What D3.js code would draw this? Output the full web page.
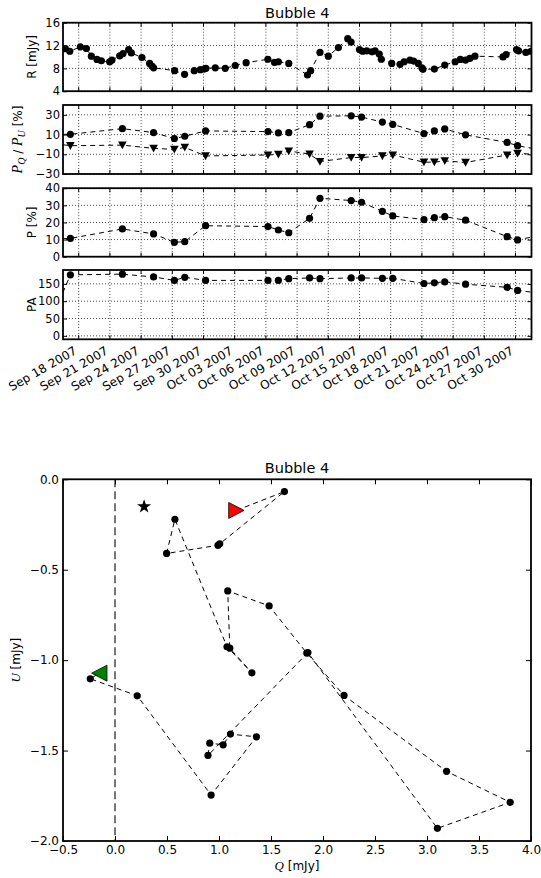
<!DOCTYPE html>
<html><head><meta charset="utf-8">
<script src="https://cdn.jsdelivr.net/npm/d3@7"></script>
<style>
body{margin:0;background:#fff}
svg{display:block}
text{font-family:"DejaVu Sans",sans-serif;fill:#000}
</style></head>
<body><svg id="c" width="541" height="878"></svg>
<script>
// ---------------- DATA ----------------
// day numbers counted from Sep 0 2007 (Oct d = 30 + d)
const rDays = [16.72,17.14,18.16,18.74,19.22,19.76,20.18,20.98,21.2,21.94,22.26,22.8,23.06,24.08,24.82,25.04,25.2,27.22,28.18,29.11,29.7,30.07,30.23,31.13,32.09,33.05,34.1,36.19,36.83,37.2,38.2,40.0,40.3,41.2,42.0,42.97,43.87,44.19,45.0,45.3,45.7,46.2,46.5,46.9,47.1,48.1,48.9,49.3,49.85,50.2,50.65,51.0,51.1,52.2,53.2,54.2,54.7,55.2,55.6,56.1,58.8,59.1,60.1,60.3,61.0,61.5];
const rVals = [11.45,11.0,11.77,11.48,10.14,9.57,9.33,9.16,9.45,10.2,10.6,11.3,10.7,9.9,8.87,8.4,8.1,7.6,6.96,7.6,7.77,7.88,8.0,8.1,8.0,8.5,9.0,9.6,9.04,9.16,8.87,6.84,7.6,10.8,10.14,11.65,13.2,12.6,11.3,11.0,11.07,10.9,11.07,10.5,9.6,8.87,8.7,9.16,9.45,9.28,8.87,8.1,7.83,7.88,8.58,9.16,9.57,9.45,9.74,10.14,10.0,10.43,11.3,11.07,10.8,11.0];

const pDays  = [14.8,17.2,22.2,25.2,27.2,28.2,30.2,36.2,37.2,38.2,40.2,41.2,44.2,45.2,47.2,48.2,51.2,52.2,53.2,55.2,59.2,60.2,63.2];
const pqVals = [10,10.3,16,12,6,8.3,13.7,13,11.7,12,20,28.7,29,27.7,22.7,20.3,11,13.7,15.7,9.7,2,-1.3,-7];
const puVals = [2,-1.3,-0.7,-4,-5,-3,-11.7,-10.7,-10,-6.7,-9.7,-17.3,-13.3,-13.3,-11.7,-10.7,-18,-18,-16.7,-18.3,-10.7,-9,-11];
const pVals  = [10,10.7,16.2,13.3,8.4,8.8,18.1,17.6,15.6,14.0,22.4,34.1,32.8,31.8,26.5,23.8,21.7,22.8,23.4,21.3,11.7,9.8,13.5];
const paVals = [5,176,178,170,160,169,160,160,160,165,167,165,167,167,166,166,151,153,156,149,140,131,120];

const dateTickLabels = ["Sep 18 2007","Sep 21 2007","Sep 24 2007","Sep 27 2007","Sep 30 2007","Oct 03 2007","Oct 06 2007","Oct 09 2007","Oct 12 2007","Oct 15 2007","Oct 18 2007","Oct 21 2007","Oct 24 2007","Oct 27 2007","Oct 30 2007"];
const rTicks  = [4,8,12,16];
const pqTicks = [-30,-10,10,30];
const pTicks  = [0,10,20,30,40];
const paTicks = [0,50,100,150];

// Q/U track (time ordered), first = start (red), last = end (green)
const qVals = [1.167,1.629,1.007,0.99,0.496,0.576,1.077,1.316,1.104,1.084,1.482,1.844,2.202,3.188,3.80,3.10,1.855,0.894,0.911,1.04,1.11,1.36,0.924,0.214,-0.238,-0.151];
const uVals = [-0.172,-0.068,-0.357,-0.365,-0.41,-0.221,-0.926,-1.07,-0.934,-0.617,-0.70,-0.961,-1.195,-1.615,-1.786,-1.93,-0.958,-1.527,-1.459,-1.468,-1.409,-1.424,-1.746,-1.197,-1.103,-1.072];
const starQ = [0.28], starU = [-0.151];
const qTicks = [-0.5,0,0.5,1,1.5,2,2.5,3,3.5,4];
const uTicks = [0,-0.5,-1,-1.5,-2];

// ---------------- DRAW ----------------
const svg = d3.select("#c");
const SERIF = '"Liberation Serif","DejaVu Serif",serif';
const toDate = d => new Date(Date.UTC(2007, 8, 1) + (d - 1) * 864e5);
const parseTick = d3.utcParse("%b %d %Y");

const L = 63, R = 531.5;
const x = d3.scaleUtc().domain([toDate(16.49), toDate(61.54)]).range([L, R]);
const tickDates = dateTickLabels.map(parseTick);

const panels = [
  {top:22.7, h:68.5, dom:[4,16], ticks:rTicks, label:"R [mJy]", lx:32},
  {top:105,  h:69,   dom:[-30,40], ticks:pqTicks, label:null, lx:18},
  {top:188.2,h:68.5, dom:[0,40], ticks:pTicks, label:"P [%]", lx:32},
  {top:270,  h:69.3, dom:[-10,190], ticks:paTicks, label:"PA", lx:32}
];

const dash = "5,4";
panels.forEach((p, i) => {
  const y = d3.scaleLinear().domain(p.dom).range([p.top + p.h, p.top]);
  const g = svg.append("g");
  const cid = "clip" + i;
  svg.append("clipPath").attr("id", cid).append("rect")
    .attr("x", L).attr("y", p.top).attr("width", R - L).attr("height", p.h);
  // grid
  const grid = g.append("g").attr("stroke", "#000").attr("stroke-width", 0.7).attr("stroke-dasharray", "1,2");
  tickDates.forEach(d => grid.append("line").attr("x1", x(d)).attr("x2", x(d)).attr("y1", p.top).attr("y2", p.top + p.h));
  p.ticks.forEach(v => grid.append("line").attr("x1", L).attr("x2", R).attr("y1", y(v)).attr("y2", y(v)));
  // x tick marks (inside, top & bottom)
  tickDates.forEach(d => {
    g.append("line").attr("x1", x(d)).attr("x2", x(d)).attr("y1", p.top + p.h).attr("y2", p.top + p.h - 4).attr("stroke", "#000");
    g.append("line").attr("x1", x(d)).attr("x2", x(d)).attr("y1", p.top).attr("y2", p.top + 4).attr("stroke", "#000");
  });
  // y axes
  const ax = g.append("g").attr("transform", `translate(${L},0)`)
    .call(d3.axisLeft(y).tickValues(p.ticks).tickSizeInner(-4).tickSizeOuter(0).tickPadding(3).tickFormat(d3.format("d")));
  ax.select(".domain").remove();
  ax.selectAll("text").style("font-size", "11.5px").style("font-family", '"DejaVu Sans",sans-serif');
  const axr = g.append("g").attr("transform", `translate(${R},0)`)
    .call(d3.axisRight(y).tickValues(p.ticks).tickSizeInner(-4).tickSizeOuter(0).tickFormat(""));
  axr.select(".domain").remove();

  const data = g.append("g").attr("clip-path", `url(#${cid})`);
  const line = (days, vals) => d3.line().x((d, k) => x(toDate(days[k]))).y(d => y(d))(vals);
  const dots = (days, vals) => data.append("g").selectAll("circle").data(vals).join("circle")
      .attr("cx", (d, k) => x(toDate(days[k]))).attr("cy", d => y(d)).attr("r", 3.6).attr("fill", "#000");
  const path = (days, vals) => data.append("path").attr("d", line(days, vals)).attr("fill", "none").attr("stroke", "#000").attr("stroke-dasharray", dash);
  if (i === 0) {
    path(rDays, rVals); dots(rDays, rVals);
  } else if (i === 1) {
    path(pDays, pqVals); path(pDays, puVals);
    dots(pDays, pqVals);
    data.append("g").selectAll("path").data(puVals).join("path")
      .attr("d", "M-4.3,-3.6L4.3,-3.6L0,4.2Z")
      .attr("transform", (d, k) => `translate(${x(toDate(pDays[k]))},${y(d)})`).attr("fill", "#000");
  } else if (i === 2) {
    path(pDays, pVals); dots(pDays, pVals);
  } else {
    path(pDays, paVals); dots(pDays, paVals);
  }
  // frame
  g.append("rect").attr("x", L).attr("y", p.top).attr("width", R - L).attr("height", p.h)
    .attr("fill", "none").attr("stroke", "#000").attr("stroke-width", 1.8);
  // y label
  const cy = p.top + p.h / 2;
  if (p.label) {
    g.append("text").attr("transform", `translate(${p.lx},${cy}) rotate(-90)`)
      .attr("text-anchor", "middle").attr("dy", "0.35em").style("font-size", "12px").text(p.label);
  } else {
    const t = g.append("text").attr("transform", `translate(${p.lx},${cy}) rotate(-90)`)
      .attr("text-anchor", "middle").attr("dy", "0.35em").style("font-size", "12px");
    t.append("tspan").style("font-family", SERIF).style("font-style", "italic").style("font-size", "14px").text("P");
    t.append("tspan").style("font-family", SERIF).style("font-style", "italic").style("font-size", "10px").attr("dy", 3).text("Q");
    t.append("tspan").attr("dy", -3).text(" / ");
    t.append("tspan").style("font-family", SERIF).style("font-style", "italic").style("font-size", "14px").text("P");
    t.append("tspan").style("font-family", SERIF).style("font-style", "italic").style("font-size", "10px").attr("dy", 3).text("U");
    t.append("tspan").attr("dy", -3).text(" [%]");
  }
});

// date labels
const pb = panels[3].top + panels[3].h;
tickDates.forEach((d, k) => {
  const tx = x(d) - 1, ty = pb + 14;
  svg.append("text").attr("x", tx).attr("y", ty).attr("text-anchor", "end")
    .attr("transform", `rotate(-30,${tx},${ty})`).style("font-size", "12px").text(dateTickLabels[k]);
});
// top title
svg.append("text").attr("x", (L + R) / 2).attr("y", 18).attr("text-anchor", "middle").style("font-size", "14.5px").text("Bubble 4");

// ---------------- Q/U panel ----------------
const T2 = 479.3, B2 = 841;
const xq = d3.scaleLinear().domain([-0.5, 4]).range([L, 531]);
const yu = d3.scaleLinear().domain([-2, 0]).range([B2, T2]);
const g2 = svg.append("g");
// Q = 0 line
g2.append("line").attr("x1", xq(0)).attr("x2", xq(0)).attr("y1", T2).attr("y2", B2)
  .attr("stroke", "#555").attr("stroke-width", 1.6).attr("stroke-dasharray", "8,4");
// track
g2.append("path").attr("d", d3.line().x((d, k) => xq(d)).y((d, k) => yu(uVals[k]))(qVals))
  .attr("fill", "none").attr("stroke", "#000").attr("stroke-dasharray", dash);
const n = qVals.length;
g2.append("g").selectAll("circle").data(qVals.slice(1, n - 1)).join("circle")
  .attr("cx", d => xq(d)).attr("cy", (d, k) => yu(uVals[k + 1])).attr("r", 3.6).attr("fill", "#000");
// start / end markers
g2.append("path").attr("d", "M-7.7,-8L7.7,0L-7.7,8Z")
  .attr("transform", `translate(${xq(qVals[0])},${yu(uVals[0])})`).attr("fill", "#ff0000").attr("stroke", "#000").attr("stroke-width", 0.8);
g2.append("path").attr("d", "M7.7,-8L-7.7,0L7.7,8Z")
  .attr("transform", `translate(${xq(qVals[n - 1])},${yu(uVals[n - 1])})`).attr("fill", "#008000").attr("stroke", "#000").attr("stroke-width", 0.8);
// star
g2.append("g").selectAll("path").data(starQ).join("path")
  .attr("d", d3.symbol(d3.symbolStar, 60)())
  .attr("transform", (d, k) => `translate(${xq(d)},${yu(starU[k])})`).attr("fill", "#000");
// axes
const fmt = d3.format(".1f");
const axb = g2.append("g").attr("transform", `translate(0,${B2})`)
  .call(d3.axisBottom(xq).tickValues(qTicks).tickSizeInner(-5).tickSizeOuter(0).tickPadding(4).tickFormat(fmt));
const axt = g2.append("g").attr("transform", `translate(0,${T2})`)
  .call(d3.axisTop(xq).tickValues(qTicks).tickSizeInner(-5).tickSizeOuter(0).tickFormat(""));
const axl = g2.append("g").attr("transform", `translate(${L},0)`)
  .call(d3.axisLeft(yu).tickValues(uTicks).tickSizeInner(-5).tickSizeOuter(0).tickPadding(4).tickFormat(fmt));
const axr2 = g2.append("g").attr("transform", `translate(531,0)`)
  .call(d3.axisRight(yu).tickValues(uTicks).tickSizeInner(-5).tickSizeOuter(0).tickFormat(""));
[axb, axt, axl, axr2].forEach(a => { a.select(".domain").remove(); a.selectAll("line").attr("stroke-width", 1); a.selectAll("text").style("font-size", "12px").style("font-family", '"DejaVu Sans",sans-serif'); });
g2.append("rect").attr("x", L).attr("y", T2).attr("width", 531 - L).attr("height", B2 - T2)
  .attr("fill", "none").attr("stroke", "#000").attr("stroke-width", 1.8);
// labels
svg.append("text").attr("x", (L + 531) / 2).attr("y", 473).attr("text-anchor", "middle").style("font-size", "14.5px").text("Bubble 4");
const xl = svg.append("text").attr("x", (L + 531) / 2).attr("y", 870).attr("text-anchor", "middle").style("font-size", "12px");
xl.append("tspan").style("font-family", SERIF).style("font-style", "italic").style("font-size", "13px").text("Q");
xl.append("tspan").text(" [mJy]");
const yl = svg.append("text").attr("transform", `translate(16,${(T2 + B2) / 2}) rotate(-90)`).attr("text-anchor", "middle").attr("dy", "0.35em").style("font-size", "12px");
yl.append("tspan").style("font-family", SERIF).style("font-style", "italic").style("font-size", "13px").text("U");
yl.append("tspan").text(" [mJy]");
</script></body></html>
